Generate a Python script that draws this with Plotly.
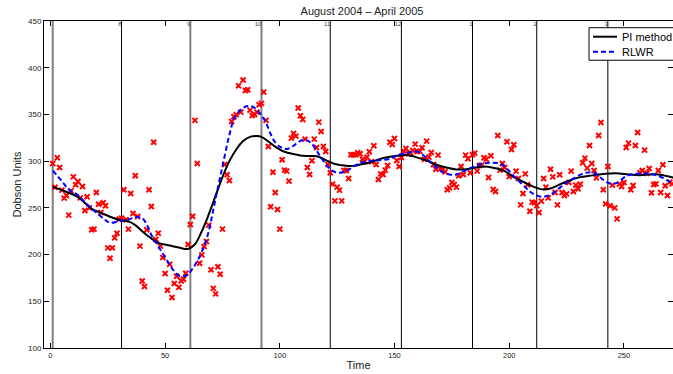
import plotly.graph_objects as go

# Daily total ozone observations (Dobson Units), day 0 = 1 August 2004
obs_day = list(range(1, 273))
obs_du = [
    297.5, 272.1, 303.6, 293.2, 269.0, 260.4, 263.2, 242.2, 268.2, 283.2,
    274.7, 278.2, 260.7, 272.9, 247.2, 261.8, 250.0, 226.5, 227.2, 266.4,
    253.9, 245.0, 255.4, 252.2, 207.2, 196.1, 207.2, 217.9, 222.9, 237.9,
    239.0, 269.3, 237.2, 227.2, 265.4, 244.0, 284.3, 240.7, 209.0, 171.8,
    165.8, 226.5, 269.3, 251.4, 320.3, 216.1, 222.9, 209.0, 196.8, 179.7,
    161.8, 189.7, 154.0, 169.0, 176.8, 165.1, 171.8, 173.6, 180.0, 210.8,
    232.2, 241.1, 343.6, 297.5, 190.8, 199.7, 208.6, 214.0, 231.5, 183.8,
    163.8, 157.9, 187.0, 178.9, 227.2, 296.4, 285.4, 279.3, 342.5, 347.5,
    349.6, 380.7, 352.5, 386.8, 375.7, 376.4, 354.6, 348.9, 350.0, 352.5,
    360.3, 361.8, 373.9, 343.6, 315.7, 251.1, 288.2, 266.4, 248.2, 227.2,
    301.4, 290.4, 289.3, 278.6, 324.6, 329.6, 326.8, 356.8, 348.6, 344.6,
    323.6, 293.2, 285.7, 300.4, 323.6, 314.6, 341.8, 331.8, 315.7, 310.4,
    296.4, 287.5, 275.4, 257.5, 272.2, 269.0, 257.5, 290.0, 290.0, 281.4,
    306.8, 306.8, 306.8, 308.9, 307.9, 302.1, 299.6, 304.3, 310.0, 299.3,
    316.4, 296.4, 280.4, 286.4, 285.7, 290.4, 295.4, 320.3, 317.9, 324.3,
    300.7, 294.3, 303.9, 310.7, 313.6, 307.9, 308.9, 311.4, 318.2, 310.4,
    310.7, 314.3, 302.1, 321.4, 304.3, 309.3, 296.4, 291.4, 306.4, 292.1,
    291.4, 288.6, 269.3, 271.4, 277.2, 275.0, 272.2, 284.3, 294.3, 285.7,
    306.4, 302.5, 287.5, 306.8, 308.6, 289.3, 295.4, 295.7, 303.6, 302.1,
    282.5, 305.7, 269.7, 267.5, 327.5, 290.4, 297.5, 293.2, 320.7, 283.6,
    312.5, 317.5, 289.3, 281.4, 253.2, 265.4, 286.4, 274.7, 246.4, 256.1,
    255.4, 252.2, 245.0, 257.2, 281.4, 272.2, 260.7, 291.4, 283.2, 266.4,
    253.2, 285.4, 266.4, 263.2, 265.0, 277.2, 289.3, 267.5, 274.3, 270.4,
    275.4, 298.2, 303.2, 292.5, 316.8, 297.5, 290.0, 282.1, 327.5, 341.4,
    269.3, 254.3, 294.3, 252.2, 274.3, 250.0, 238.2, 275.4, 272.9, 277.2,
    314.6, 319.3, 269.3, 273.9, 316.8, 330.7, 287.5, 290.0, 311.8, 287.1,
    292.1, 266.1, 275.0, 275.7, 290.0, 266.4, 296.1, 273.6, 263.2, 277.5,
    275.7, 292.1,
]

# Smoothed fit from the PI method
pi_day = [1, 6, 12, 18, 22, 26, 31, 34, 37, 40, 43, 47, 52, 56, 60, 63, 66,
          69, 72, 75, 78, 81, 84, 87, 90, 92, 95, 98, 101, 104, 107, 110, 113,
          116, 118, 121, 124, 127, 130, 133, 135, 139, 143, 148, 152, 156, 159,
          164, 168, 173, 177, 180, 185, 189, 193, 198, 202, 207, 211, 215, 218,
          222, 226, 231, 235, 239, 244, 248, 252, 257, 261, 265, 270, 272]
pi_du = [272.5, 268.0, 261.5, 249.0, 244.7, 240.5, 236.5, 235.5, 231.5, 225.0,
         219.0, 212.5, 209.7, 207.5, 206.0, 211.0, 225.0, 243.0, 263.0, 283.0,
         300.0, 312.5, 321.5, 326.0, 326.8, 326.0, 321.0, 315.5, 311.0, 308.7,
         307.0, 305.7, 305.6, 305.3, 303.6, 300.0, 297.0, 295.6, 294.8, 295.2,
         296.3, 298.2, 301.8, 304.6, 306.1, 306.4, 304.6, 300.7, 296.4, 292.9,
         291.1, 291.1, 292.9, 294.3, 292.9, 289.3, 282.9, 276.8, 272.2, 269.6,
         270.7, 275.0, 279.0, 282.9, 284.3, 285.7, 286.8, 286.8, 285.7, 285.0,
         285.7, 285.7, 283.2, 282.0]

# Robust locally weighted regression fit
rlwr_day = [1, 5, 8, 12, 16, 21, 24, 26, 30, 34, 37, 40, 42, 44, 46, 48, 50,
            52, 54, 56, 58, 60, 62, 64, 66, 68, 70, 72, 74, 76, 78, 80, 82, 84,
            86, 88, 90, 92, 94, 96, 98, 100, 103, 106, 108, 111, 114, 117, 120,
            123, 126, 129, 132, 135, 139, 143, 148, 152, 156, 159, 162, 165,
            168, 171, 174, 177, 180, 183, 188, 192, 196, 199, 202, 206, 209,
            211, 214, 218, 221, 224, 226, 229, 233, 237, 241, 244, 247, 251,
            255, 260, 263, 267, 270, 272]
rlwr_du = [290.0, 278.6, 269.6, 263.6, 253.6, 242.9, 236.8, 234.0, 235.7,
           237.5, 240.0, 239.0, 232.0, 221.0, 213.0, 205.0, 197.0, 189.0,
           182.0, 177.5, 176.5, 179.0, 185.0, 193.0, 203.0, 216.0, 236.0,
           260.0, 283.0, 306.0, 328.0, 345.0, 352.5, 357.0, 359.0, 358.5,
           355.0, 349.0, 341.0, 329.0, 320.0, 315.5, 313.0, 316.5, 320.5,
           323.0, 318.5, 307.5, 297.0, 289.5, 287.5, 289.3, 294.0, 298.2,
           300.0, 301.0, 302.5, 307.0, 309.0, 310.7, 307.5, 300.5, 294.0,
           288.2, 285.7, 285.7, 289.0, 292.5, 297.2, 298.2, 297.3, 292.0,
           284.0, 274.5, 267.5, 264.3, 261.8, 264.0, 269.6, 275.0, 278.6,
           282.9, 287.3, 287.5, 280.0, 276.0, 276.8, 284.0, 286.4, 286.8,
           285.7, 282.0, 277.9, 276.0]

# Month boundaries and the month number that ends at each boundary
month_edge = [1, 31, 61, 92, 122, 153, 184, 212, 243, 273]
month_tag = ["", "8", "9", "10", "11", "12", "1", "2", "3", "4"]
grey_edges = {1, 61, 92}

x_ticks = [0, 50, 100, 150, 200, 250]
y_ticks = [100, 150, 200, 250, 300, 350, 400, 450]

FONT = "Liberation Sans, Arial, Helvetica, sans-serif"
TEXT = "#222222"

fig = go.Figure()

fig.add_trace(go.Scatter(
    x=obs_day, y=obs_du, mode="markers", showlegend=False, name="data",
    marker=dict(symbol="x-thin", size=5, color="#ff0000",
                line=dict(color="#ff0000", width=2)),
    hoverinfo="x+y",
))
fig.add_trace(go.Scatter(
    x=pi_day, y=pi_du, mode="lines", name="PI method", showlegend=False,
    line=dict(color="black", width=2, shape="spline", smoothing=1.0),
))
fig.add_trace(go.Scatter(
    x=rlwr_day, y=rlwr_du, mode="lines", name="RLWR", showlegend=False,
    line=dict(color="#0000ff", width=2, dash="5px,3px",
              shape="spline", smoothing=1.0),
))

# Tiny month numbers at the top of each boundary line
fig.add_trace(go.Scatter(
    x=month_edge, y=[450] * len(month_edge), text=month_tag,
    mode="text", textposition="bottom left", showlegend=False,
    textfont=dict(size=6, color="#444444", family=FONT),
    cliponaxis=False, hoverinfo="skip",
))

for d in month_edge:
    grey = d in grey_edges
    fig.add_shape(
        type="line", xref="x", yref="paper", x0=d, x1=d, y0=0, y1=1,
        line=dict(color="#808080" if grey else "black",
                  width=2 if grey else 1),
        layer="below",
    )

# Boxed key in the upper right corner, running off the right edge
fig.add_shape(type="rect", xref="paper", yref="paper",
              x0=0.8665, x1=1.05, y0=0.880, y1=0.9795,
              line=dict(color="black", width=1), fillcolor="white",
              layer="above")
key_rows = [("PI method", dict(color="black", width=2), 0.952),
            ("RLWR", dict(color="#0000ff", width=2, dash="5px,3px"), 0.906)]
for label, style, ky in key_rows:
    fig.add_shape(type="line", xref="paper", yref="paper",
                  x0=0.8728, x1=0.911, y0=ky, y1=ky, line=style,
                  layer="above")
    fig.add_annotation(text=label, xref="paper", yref="paper",
                       x=0.9157, y=ky, xanchor="left", yanchor="middle",
                       showarrow=False,
                       font=dict(size=11, family=FONT, color="black"))

axis_common = dict(
    showline=True, linecolor="black", linewidth=1, mirror="ticks",
    ticks="inside", ticklen=5, tickwidth=1, tickcolor="black",
    showgrid=False, zeroline=False,
)

fig.update_layout(
    width=673, height=374,
    margin=dict(l=44, r=0, t=21, b=26, autoexpand=False),
    paper_bgcolor="white", plot_bgcolor="white",
    font=dict(family=FONT, color=TEXT),
    title=dict(text="August 2004 \u2013 April 2005", x=0.5056, xref="paper",
               y=0.971, yref="container", xanchor="center", yanchor="middle",
               font=dict(size=11, color=TEXT, family=FONT)),
    xaxis=dict(range=[-2.8, 271.4], tickvals=x_ticks,
               tickfont=dict(size=7.5, family=FONT, color=TEXT),
               title=dict(text="Time", standoff=2,
                          font=dict(size=11, family=FONT, color=TEXT)),
               automargin=False, **axis_common),
    yaxis=dict(range=[100, 450], tickvals=y_ticks,
               tickfont=dict(size=8, family=FONT, color=TEXT),
               title=dict(text="Dobson Units", standoff=4,
                          font=dict(size=11, family=FONT, color=TEXT)),
               automargin=False, **axis_common),
    showlegend=False,
)

fig.write_html("out.html")
